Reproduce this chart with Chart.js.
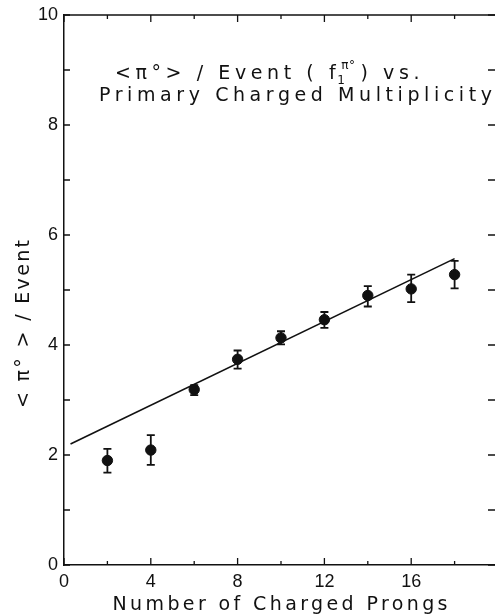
<!DOCTYPE html>
<html>
<head>
<meta charset="utf-8">
<script src="https://cdn.jsdelivr.net/npm/chart.js@4.4.1/dist/chart.umd.min.js"></script>
<style>
html,body{margin:0;padding:0;background:#fff;overflow:hidden;}
canvas{display:block;}
</style>
</head>
<body>
<canvas id="c" width="500" height="616" style="width:500px;height:616px"></canvas>
<script>
// ---- data ----
const prongs   = [2, 4, 6, 8, 10, 12, 14, 16, 18];
const pi0PerEv = [1.90, 2.09, 3.19, 3.74, 4.13, 4.46, 4.90, 5.02, 5.28];
const errHigh  = [2.11, 2.36, 3.27, 3.90, 4.25, 4.60, 5.07, 5.28, 5.53];
const errLow   = [1.68, 1.82, 3.09, 3.57, 4.01, 4.31, 4.70, 4.78, 5.03];
const fitX     = [0.3, 18];
const fitY     = [2.20, 5.57];
const xTickLabels = [0, 4, 8, 12, 16];
const yTickLabels = [0, 2, 4, 6, 8, 10];

const FONT = '"Liberation Sans", Arial, sans-serif';
const TFONT = '"DejaVu Sans", sans-serif';

function spacedText(ctx, text, x, y, target, align) {
  ctx.letterSpacing = '0px';
  const w0 = ctx.measureText(text).width;
  const ls = (target - w0) / Math.max(1, text.length - 1);
  ctx.letterSpacing = ls + 'px';
  const w = ctx.measureText(text).width - ls;
  let sx = x;
  if (align === 'center') sx = x - w / 2;
  ctx.textAlign = 'left';
  ctx.fillText(text, sx, y);
  return ls;
}

const decor = {
  id: 'decor',
  afterDatasetsDraw(chart) {
    const ctx = chart.ctx;
    const xs = chart.scales.x, ys = chart.scales.y;
    ctx.save();
    ctx.strokeStyle = '#111';
    ctx.lineWidth = 1.8;
    prongs.forEach((p, i) => {
      const px = xs.getPixelForValue(p);
      const t = ys.getPixelForValue(errHigh[i]);
      const b = ys.getPixelForValue(errLow[i]);
      ctx.beginPath();
      ctx.moveTo(px, t); ctx.lineTo(px, b);
      ctx.moveTo(px - 4, t); ctx.lineTo(px + 4, t);
      ctx.moveTo(px - 4, b); ctx.lineTo(px + 4, b);
      ctx.stroke();
    });
    ctx.restore();
  },
  afterDraw(chart) {
    const ctx = chart.ctx;
    const xs = chart.scales.x, ys = chart.scales.y;
    const a = chart.chartArea;
    ctx.save();
    ctx.strokeStyle = '#111';
    ctx.lineWidth = 1.5;
    ctx.beginPath();
    ctx.moveTo(a.left, a.top); ctx.lineTo(a.right, a.top);
    ctx.stroke();
    ctx.lineWidth = 1.3;
    for (let v = 0; v <= 10; v++) {
      const py = ys.getPixelForValue(v);
      ctx.beginPath();
      ctx.moveTo(a.left, py); ctx.lineTo(a.left + 6, py);
      ctx.moveTo(a.right, py); ctx.lineTo(a.right - 10, py);
      ctx.stroke();
    }
    for (let v = 0; v <= 20; v += 2) {
      const px = xs.getPixelForValue(v);
      const len = (v % 4 === 0) ? 7 : 4;
      ctx.beginPath();
      ctx.moveTo(px, a.bottom); ctx.lineTo(px, a.bottom - len);
      ctx.moveTo(px, a.top); ctx.lineTo(px, a.top + len);
      ctx.stroke();
    }
    // titles
    ctx.fillStyle = '#111';
    ctx.textBaseline = 'alphabetic';
    ctx.font = '19px ' + TFONT;
    const ls = spacedText(ctx, 'Primary Charged Multiplicity', 99, 101, 393, 'left');
    ctx.letterSpacing = ls + 'px';
    let x = 115;
    const part1 = '<π°> / Event ( f';
    ctx.fillText(part1, x, 79);
    x += ctx.measureText(part1).width;
    ctx.font = '12px ' + TFONT;
    ctx.letterSpacing = '0.5px';
    ctx.fillText('1', x - 3, 84);
    ctx.fillText('π°', x + 1, 69);
    x += ctx.measureText('π°').width + 6;
    ctx.font = '19px ' + TFONT;
    ctx.letterSpacing = ls + 'px';
    ctx.fillText(') vs.', x, 79);
    // x-axis title
    spacedText(ctx, 'Number of Charged Prongs', 280, 610, 335, 'center');
    // y-axis title
    ctx.save();
    ctx.translate(29, 324);
    ctx.rotate(-Math.PI / 2);
    spacedText(ctx, '< π° > / Event', 0, 0, 168, 'center');
    ctx.restore();
    ctx.restore();
  }
};

new Chart(document.getElementById('c'), {
  type: 'scatter',
  data: {
    datasets: [
      {
        label: 'points',
        data: prongs.map((p, i) => ({x: p, y: pi0PerEv[i]})),
        backgroundColor: '#111',
        borderColor: '#111',
        pointRadius: 5.2,
        pointHoverRadius: 5.2,
        order: 1
      },
      {
        label: 'fit',
        type: 'line',
        data: fitX.map((v, i) => ({x: v, y: fitY[i]})),
        borderColor: '#111',
        borderWidth: 1.6,
        pointRadius: 0,
        fill: false,
        order: 2
      }
    ]
  },
  options: {
    responsive: false,
    animation: false,
    events: [],
    layout: {autoPadding: false, padding: {top: 15, right: 2, left: 0, bottom: 0}},
    plugins: {legend: {display: false}, tooltip: {enabled: false}, title: {display: false}},
    scales: {
      x: {
        type: 'linear', min: 0, max: 20,
        afterFit(s) { s.height = 51; s.paddingLeft = 0; s.paddingRight = 0; },
        grid: {display: false, drawTicks: false},
        border: {display: true, color: '#111', width: 1.5},
        ticks: {
          stepSize: 2, autoSkip: false, maxRotation: 0, padding: 6,
          color: '#111', font: {family: FONT, size: 18},
          callback: v => xTickLabels.includes(v) ? String(v) : ''
        }
      },
      y: {
        type: 'linear', min: 0, max: 10,
        afterFit(s) { s.width = 64; s.paddingTop = 0; s.paddingBottom = 0; },
        grid: {display: false, drawTicks: false},
        border: {display: true, color: '#111', width: 1.5},
        ticks: {
          stepSize: 1, autoSkip: false, padding: 6,
          color: '#111', font: {family: FONT, size: 18},
          callback: v => yTickLabels.includes(v) ? String(v) : ''
        }
      }
    }
  },
  plugins: [decor]
});
</script>
</body>
</html>
